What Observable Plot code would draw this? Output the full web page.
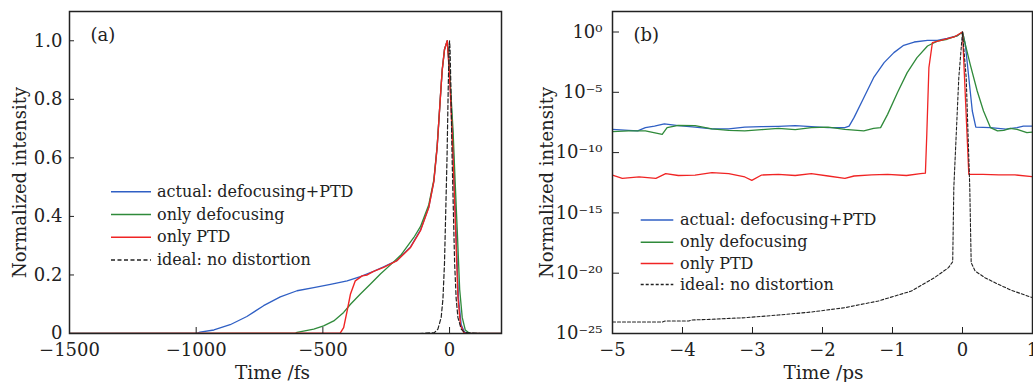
<!DOCTYPE html>
<html><head><meta charset="utf-8">
<script src="https://cdn.jsdelivr.net/npm/d3@7"></script>
<script src="https://cdn.jsdelivr.net/npm/@observablehq/plot@0.6"></script>
<style>
html,body{margin:0;padding:0;background:#fff;}
#wrap{position:relative;width:1033px;height:382px;overflow:hidden;font-family:"DejaVu Serif",serif;}
#pa{position:absolute;left:0;top:0;}
#pb{position:absolute;left:520px;top:0;}
</style></head><body><div id="wrap"><div id="pa"></div><div id="pb"></div></div>
<script>
// ---------- Panel (a): linear scale, time in fs ----------
const aBlueT = [-1500,-1000,-985,-930,-866,-800,-734,-668,-602,-536,-470,-404,-352,-300,-260,-207,-154,-115,-82,-62,-49,-36,-29,-20,-9,0,12,19,26,35,46,58,72,205];
const aBlueV = [0,0,0.005,0.012,0.03,0.058,0.095,0.125,0.146,0.157,0.168,0.18,0.194,0.212,0.228,0.25,0.296,0.353,0.432,0.52,0.636,0.81,0.9,0.97,1.0,0.89,0.69,0.52,0.35,0.123,0.03,0.006,0,0];
const aGreenT = [-1500,-610,-602,-536,-497,-457,-418,-391,-352,-312,-273,-230,-190,-141,-115,-82,-62,-49,-36,-29,-20,-9,0,14,22,30,40,50,62,80,205];
const aGreenV = [0,0,0.004,0.015,0.026,0.043,0.072,0.1,0.135,0.169,0.203,0.237,0.27,0.328,0.365,0.44,0.525,0.64,0.81,0.9,0.97,1.0,0.9,0.69,0.52,0.36,0.15,0.055,0.012,0,0];
const aRedT = [-1500,-431,-418,-404,-391,-372,-345,-325,-300,-260,-207,-154,-115,-82,-62,-49,-36,-29,-20,-9,0,10,17,24,33,43,55,65,205];
const aRedV = [0,0.002,0.02,0.078,0.135,0.18,0.197,0.2,0.212,0.226,0.249,0.294,0.351,0.43,0.52,0.636,0.81,0.9,0.97,1.0,0.88,0.69,0.52,0.35,0.123,0.03,0.005,0,0];
const aIdealT = [-120,-60,-46,-33,-26,-20,-10,-5,-2,0,2,5,10,20,26,33,46,60,120];
const aIdealV = [0,0.003,0.015,0.055,0.12,0.24,0.6,0.85,0.97,1.0,0.97,0.85,0.6,0.24,0.12,0.055,0.015,0.003,0];
const aXTicks = [-1500,-1000,-500,0];
const aYTicks = [0,0.2,0.4,0.6,0.8,1.0];

// ---------- Panel (b): log scale, time in ps (values stored as log10 exponents) ----------
const bBlueT = [-5.0,-4.77,-4.64,-4.53,-4.4,-4.26,-4.06,-3.82,-3.58,-3.34,-3.11,-2.87,-2.63,-2.39,-2.16,-1.92,-1.68,-1.62,-1.55,-1.41,-1.27,-1.12,-0.98,-0.84,-0.69,-0.5,-0.36,-0.22,-0.08,0,0.04,0.09,0.14,0.19,0.4,0.62,0.78,0.87,1.0];
const bBlueE = [-8.07,-8.15,-8.2,-7.93,-7.8,-7.62,-7.77,-7.88,-8.04,-8.04,-7.88,-7.85,-7.82,-7.77,-7.85,-7.93,-7.93,-7.8,-7.1,-5.45,-3.79,-2.54,-1.71,-1.1,-0.83,-0.69,-0.69,-0.52,-0.33,0,-1.02,-3.79,-6.55,-7.88,-7.93,-8.05,-7.93,-7.8,-7.8];
const bGreenT = [-5,-4.77,-4.53,-4.41,-4.29,-4.22,-4.06,-3.82,-3.58,-3.34,-3.11,-2.87,-2.63,-2.39,-2.16,-1.92,-1.68,-1.41,-1.27,-1.17,-1.07,-0.93,-0.79,-0.65,-0.5,-0.36,-0.22,-0.08,0,0.04,0.11,0.21,0.3,0.4,0.5,0.59,0.68,0.78,0.92,1.0];
const bGreenE = [-8.26,-8.2,-8.2,-8.35,-8.49,-7.93,-7.74,-7.77,-8.04,-8.15,-8.2,-8.1,-7.99,-8.1,-7.93,-7.88,-8.07,-8.2,-7.99,-7.93,-6.83,-5.03,-3.37,-2.13,-1.16,-0.75,-0.6,-0.33,0,-1.02,-2.68,-4.89,-6.55,-7.93,-8.2,-8.15,-7.99,-8.07,-8.35,-8.3];
const bRedT = [-5,-4.86,-4.62,-4.38,-4.24,-4.06,-3.82,-3.58,-3.34,-3.11,-3.01,-2.87,-2.63,-2.39,-2.16,-1.92,-1.68,-1.55,-1.3,-1.07,-0.8,-0.6,-0.53,-0.51,-0.48,-0.43,-0.31,-0.12,0,0.09,0.29,0.52,0.75,1.0];
const bRedE = [-11.86,-12.13,-12.02,-12.13,-11.75,-11.9,-11.86,-11.66,-11.75,-12.02,-12.3,-11.86,-11.8,-11.9,-11.75,-11.94,-12.13,-11.94,-11.85,-11.8,-11.9,-11.75,-11.7,-8.48,-2.96,-0.88,-0.69,-0.41,0,-11.8,-11.8,-11.85,-11.85,-12.0];
const bIdealT = [-5,-4.29,-4.25,-3.91,-3.87,-3.58,-3.11,-2.63,-2.16,-1.68,-1.2,-0.73,-0.4,-0.2,-0.14,-0.124,-0.053,0,0.053,0.104,0.124,0.18,0.32,0.51,0.7,1.0];
const bIdealE = [-24.05,-24.05,-23.96,-23.96,-23.88,-23.82,-23.69,-23.47,-23.22,-22.86,-22.3,-21.48,-20.37,-19.54,-19.05,-12.9,-3.8,0,-3.8,-12.9,-19.13,-19.82,-20.37,-20.92,-21.42,-22.03];
const bXTicks = [-5,-4,-3,-2,-1,0,1];
const bYTicks = [1,1e-5,1e-10,1e-15,1e-20,1e-25];

const legendLabels = ["actual: defocusing+PTD","only defocusing","only PTD","ideal: no distortion"];
const panelLabels = ["(a)","(b)"];
const xTitles = ["Time /fs","Time /ps"];
const yTitle = "Normalized intensity";

// ---------- styling ----------
const C = {blue:"#2f5fc4", green:"#2f8a3a", red:"#f02424", ideal:"#222"};
const seriesColors = [C.blue, C.green, C.red, C.ideal];
const ink = "#222";
const font = "DejaVu Serif";

const zip = (T, V) => T.map((t, i) => ({t, v: V[i]}));
const zipE = (T, E) => T.map((t, i) => ({t, v: Math.pow(10, E[i])}));
const minus = d => d < 0 ? "\u2212" + Math.abs(d) : String(d);
const sup = {"0":"\u2070","1":"\u00b9","2":"\u00b2","3":"\u00b3","4":"\u2074","5":"\u2075","6":"\u2076","7":"\u2077","8":"\u2078","9":"\u2079","-":"\u207b"};
const fmtPow = d => "10" + String(Math.round(Math.log10(d))).split("").map(c => sup[c]).join("");

function addLegend(svg, x1, x2, xt, ys, dash) {
  const g = d3.select(svg).append("g").attr("font-family", font).attr("font-size", 16)
    .attr("fill", ink).attr("text-anchor", "start");
  legendLabels.forEach((lab, i) => {
    g.append("line").attr("x1", x1).attr("x2", x2).attr("y1", ys[i]).attr("y2", ys[i])
      .attr("stroke", seriesColors[i]).attr("stroke-width", 1.4)
      .attr("stroke-dasharray", i === 3 ? dash : null);
    g.append("text").attr("x", xt).attr("y", ys[i]).attr("dy", "0.32em")
      .attr("text-anchor", "start").text(lab);
  });
}

// ---------- Panel (a) ----------
const svgA = Plot.plot({
  width: 520, height: 382,
  marginLeft: 69, marginRight: 19, marginTop: 11, marginBottom: 49,
  style: {fontFamily: font, fontSize: "18px", color: ink, background: "transparent"},
  x: {domain: [-1500, 205]},
  y: {domain: [0, 1.1]},
  marks: [
    Plot.line(zip(aBlueT, aBlueV), {x: "t", y: "v", stroke: C.blue, strokeWidth: 1.3, clip: true}),
    Plot.line(zip(aGreenT, aGreenV), {x: "t", y: "v", stroke: C.green, strokeWidth: 1.3, clip: true}),
    Plot.line(zip(aRedT, aRedV), {x: "t", y: "v", stroke: C.red, strokeWidth: 1.4, clip: true}),
    Plot.line(zip(aIdealT, aIdealV), {x: "t", y: "v", stroke: C.ideal, strokeWidth: 1.2, strokeDasharray: "4,2.5", clip: true}),
    Plot.frame({stroke: ink, strokeWidth: 1.5}),
    Plot.axisX({ticks: aXTicks, tickSize: -6, tickPadding: 16, tickFormat: minus, label: null, fontSize: 18, stroke: ink}),
    Plot.axisY({ticks: aYTicks, tickSize: -5, tickPadding: 12, tickFormat: d => d === 0 ? "0" : d.toFixed(1), label: null, fontSize: 18, stroke: ink}),
    Plot.text([xTitles[0]], {text: d => d, frameAnchor: "bottom", dx: -13, dy: 45, lineAnchor: "bottom", textAnchor: "middle", fontSize: 18.5, fill: ink}),
    Plot.text([yTitle], {text: d => d, frameAnchor: "left", rotate: -90, dx: -44, dy: 10, lineAnchor: "bottom", textAnchor: "middle", fontSize: 18, fill: ink}),
    Plot.text([panelLabels[0]], {text: d => d, frameAnchor: "top-left", dx: 21, dy: 29.5, lineAnchor: "bottom", textAnchor: "start", fontSize: 18, fill: ink})
  ]
});
addLegend(svgA, 111, 151, 157, [191.7, 214.5, 237.3, 260], "4,2.5");
document.getElementById("pa").appendChild(svgA);

// ---------- Panel (b) ----------
const svgB = Plot.plot({
  width: 513, height: 382,
  marginLeft: 92, marginRight: 1, marginTop: 11, marginBottom: 49,
  style: {fontFamily: font, fontSize: "18px", color: ink, background: "transparent"},
  x: {domain: [-5, 1]},
  y: {type: "log", domain: [1e-25, Math.pow(10, 1.7)]},
  marks: [
    Plot.line(zipE(bBlueT, bBlueE), {x: "t", y: "v", stroke: C.blue, strokeWidth: 1.3, clip: true}),
    Plot.line(zipE(bGreenT, bGreenE), {x: "t", y: "v", stroke: C.green, strokeWidth: 1.3, clip: true}),
    Plot.line(zipE(bRedT, bRedE), {x: "t", y: "v", stroke: C.red, strokeWidth: 1.3, clip: true}),
    Plot.line(zipE(bIdealT, bIdealE), {x: "t", y: "v", stroke: C.ideal, strokeWidth: 1.1, strokeDasharray: "3,2", clip: true}),
    Plot.frame({stroke: ink, strokeWidth: 1.5}),
    Plot.axisX({ticks: bXTicks, tickSize: -6, tickPadding: 16, tickFormat: minus, label: null, fontSize: 18, stroke: ink}),
    Plot.axisY({ticks: bYTicks, tickSize: -7, tickPadding: 17, tickFormat: fmtPow, label: null, fontSize: 18, stroke: ink}),
    Plot.text([xTitles[1]], {text: d => d, frameAnchor: "bottom", dx: 1, dy: 45, lineAnchor: "bottom", textAnchor: "middle", fontSize: 18.5, fill: ink}),
    Plot.text([yTitle], {text: d => d, frameAnchor: "left", rotate: -90, dx: -60, dy: 10, lineAnchor: "bottom", textAnchor: "middle", fontSize: 18, fill: ink}),
    Plot.text([panelLabels[1]], {text: d => d, frameAnchor: "top-left", dx: 21, dy: 29.5, lineAnchor: "bottom", textAnchor: "start", fontSize: 18, fill: ink})
  ]
});
addLegend(svgB, 120.7, 153.3, 160, [220, 242.3, 263.5, 284.5], "3,2");
document.getElementById("pb").appendChild(svgB);
</script></body></html>
